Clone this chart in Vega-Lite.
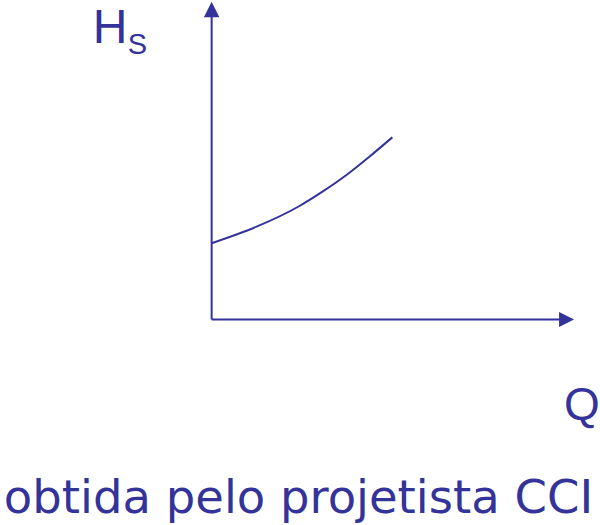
{
  "$schema": "https://vega.github.io/schema/vega-lite/v6.json",
  "width": 600,
  "height": 525,
  "padding": 0,
  "autosize": {"type": "fit", "contains": "padding"},
  "background": "white",
  "config": {"view": {"stroke": null}},
  "datasets": {
    "axes": [
      {"axis": "H", "q": 0, "h": 0, "q2": 0, "h2": 303},
      {"axis": "Q", "q": 0, "h": 0, "q2": 349, "h2": 0}
    ],
    "curve": [
      {"q": 0, "h": 76.2},
      {"q": 45, "h": 92.8},
      {"q": 88, "h": 113.5},
      {"q": 111, "h": 127.8},
      {"q": 135, "h": 144.5},
      {"q": 158, "h": 162.8},
      {"q": 181, "h": 182.2}
    ]
  },
  "encoding": {
    "x": {"type": "quantitative", "scale": {"domain": [-212, 388], "nice": false, "zero": false}, "axis": null},
    "y": {"type": "quantitative", "scale": {"domain": [-205.5, 319.5], "nice": false, "zero": false}, "axis": null}
  },
  "layer": [
    {
      "data": {"name": "axes"},
      "mark": {"type": "rule", "color": "#333399", "strokeWidth": 2},
      "encoding": {
        "x": {"field": "q"},
        "y": {"field": "h"},
        "x2": {"field": "q2"},
        "y2": {"field": "h2"}
      }
    },
    {
      "data": {"values": [{"q": 0, "h": 310}]},
      "mark": {"type": "point", "shape": "M0,-1L1,1L-1,1Z", "size": 240, "filled": true, "color": "#333399", "opacity": 1},
      "encoding": {"x": {"field": "q"}, "y": {"field": "h"}}
    },
    {
      "data": {"values": [{"q": 355.5, "h": 0}]},
      "mark": {"type": "point", "shape": "M1,0L-1,-1L-1,1Z", "size": 225, "filled": true, "color": "#333399", "opacity": 1},
      "encoding": {"x": {"field": "q"}, "y": {"field": "h"}}
    },
    {
      "data": {"name": "curve"},
      "mark": {"type": "line", "color": "#333399", "strokeWidth": 2, "interpolate": "monotone"},
      "encoding": {"x": {"field": "q"}, "y": {"field": "h"}}
    },
    {
      "data": {"values": [{"q": -119, "h": 276.8, "label": "H"}]},
      "mark": {"type": "text", "align": "left", "baseline": "alphabetic", "font": "Liberation Sans", "fontSize": 48, "color": "#333399"},
      "encoding": {"x": {"field": "q"}, "y": {"field": "h"}, "text": {"field": "label"}}
    },
    {
      "data": {"values": [{"q": -84, "h": 265.5, "label": "S"}]},
      "mark": {"type": "text", "align": "left", "baseline": "alphabetic", "font": "Liberation Sans", "fontSize": 29, "color": "#333399"},
      "encoding": {"x": {"field": "q"}, "y": {"field": "h"}, "text": {"field": "label"}}
    },
    {
      "data": {"values": [{"q": 353, "h": -100.5, "label": "Q"}]},
      "mark": {"type": "text", "align": "left", "baseline": "alphabetic", "font": "Liberation Sans", "fontSize": 46, "color": "#333399"},
      "encoding": {"x": {"field": "q"}, "y": {"field": "h"}, "text": {"field": "label"}}
    },
    {
      "data": {"values": [{"q": 87, "h": -193.5, "label": "obtida pelo projetista CCI"}]},
      "mark": {"type": "text", "align": "center", "baseline": "alphabetic", "font": "DejaVu Sans", "fontSize": 46.5, "color": "#333399"},
      "encoding": {"x": {"field": "q"}, "y": {"field": "h"}, "text": {"field": "label"}}
    }
  ]
}
